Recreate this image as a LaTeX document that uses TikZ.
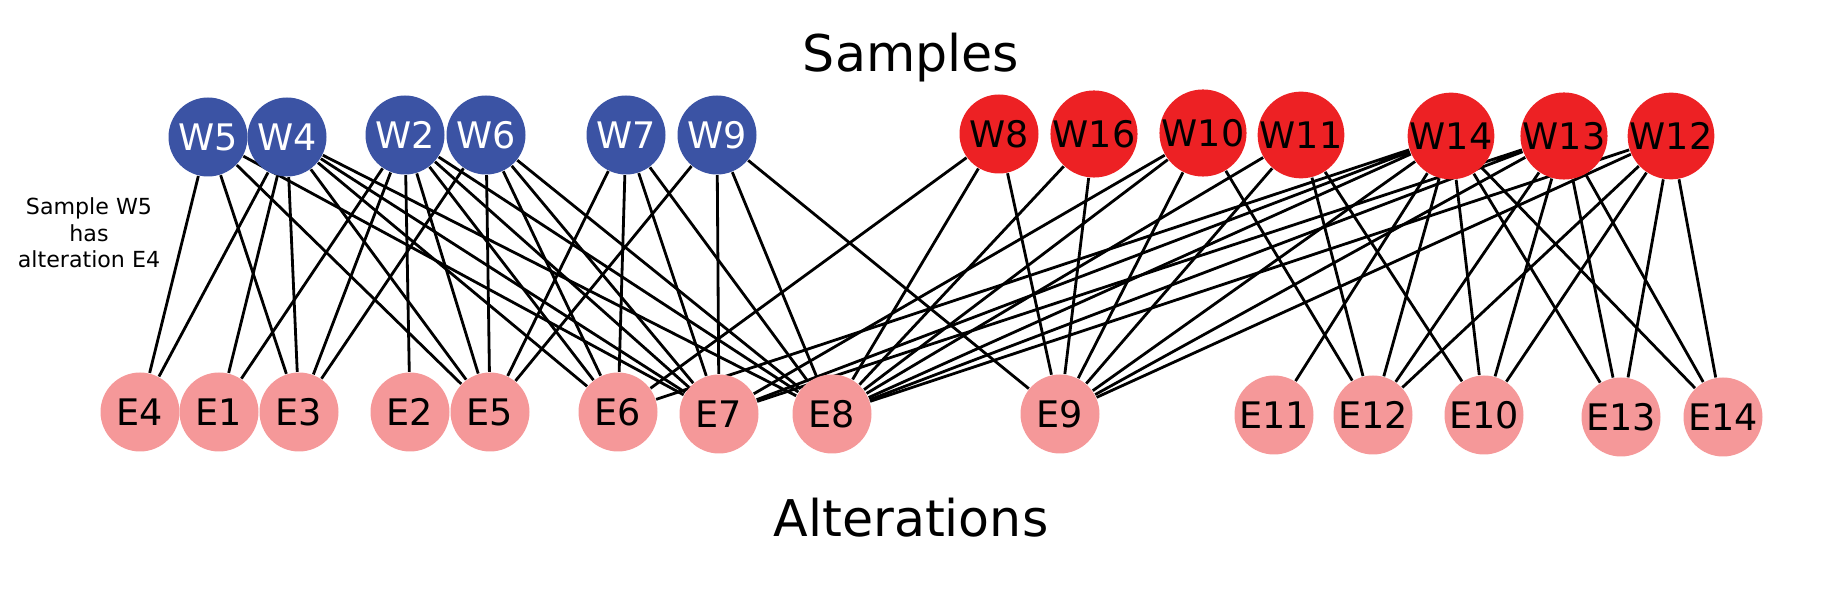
\documentclass[tikz,border=0pt]{standalone}
\usepackage{fontspec}
\setmainfont{DejaVu Sans}
\definecolor{wblue}{RGB}{59,83,164}
\definecolor{wred}{RGB}{237,33,36}
\definecolor{epink}{RGB}{245,152,153}
\pgfdeclarelayer{links}
\pgfsetlayers{links,main}
\begin{document}
\begin{tikzpicture}[font=\fontsize{10.4}{12}\selectfont,
	node/.style={circle,minimum size=0.79cm,inner sep=0pt},
	wsample/.style={node,fill=wblue,text=white},
	rsample/.style={node,fill=wred,text=black},
	alter/.style={node,fill=epink,text=black},
	link/.style={black,line width=0.8pt}]
	\useasboundingbox (0,0) rectangle (18.23,6.06);
	%samples
	\node[wsample] (W5) at (2.08,4.69) {W5};
	\node[wsample] (W4) at (2.87,4.69) {W4};
	\node[wsample] (W2) at (4.05,4.71) {W2};
	\node[wsample] (W6) at (4.86,4.71) {W6};
	\node[wsample] (W7) at (6.26,4.71) {W7};
	\node[wsample] (W9) at (7.17,4.71) {W9};
	\node[rsample] (W8) at (9.99,4.72) {W8};
	\node[rsample] (W16) at (10.94,4.72) {W16};
	\node[rsample] (W10) at (12.03,4.73) {W10};
	\node[rsample] (W11) at (13.01,4.71) {W11};
	\node[rsample] (W14) at (14.51,4.70) {W14};
	\node[rsample] (W13) at (15.64,4.70) {W13};
	\node[rsample] (W12) at (16.71,4.70) {W12};
	%alterations
	\node[alter] (E4) at (1.40,1.94) {E4};
	\node[alter] (E1) at (2.19,1.94) {E1};
	\node[alter] (E3) at (2.99,1.94) {E3};
	\node[alter] (E2) at (4.10,1.94) {E2};
	\node[alter] (E5) at (4.90,1.94) {E5};
	\node[alter] (E6) at (6.18,1.94) {E6};
	\node[alter] (E7) at (7.19,1.92) {E7};
	\node[alter] (E8) at (8.32,1.92) {E8};
	\node[alter] (E9) at (10.60,1.92) {E9};
	\node[alter] (E11) at (12.74,1.91) {E11};
	\node[alter] (E12) at (13.73,1.91) {E12};
	\node[alter] (E10) at (14.84,1.91) {E10};
	\node[alter] (E13) at (16.21,1.89) {E13};
	\node[alter] (E14) at (17.23,1.89) {E14};
	%titles
	\node[anchor=base,font=\fontsize{14.4}{17}\selectfont] (samples) at (9.11,5.34) {Samples};
	\node[anchor=base,font=\fontsize{14.4}{17}\selectfont] (alterations) at (9.11,0.69) {Alterations};
	\node[align=center,font=\fontsize{6.3}{7.6}\selectfont] (note) at (0.89,3.73) {Sample W5\\has\\alteration E4};
	\begin{pgfonlayer}{links}
	\draw[link] (W5) -- (E4) (W5) -- (E3) (W5) -- (E5) (W5) -- (E7);
	\draw[link] (W4) -- (E4) (W4) -- (E1) (W4) -- (E3) (W4) -- (E5) (W4) -- (E6) (W4) -- (E7) (W4) -- (E8);
	\draw[link] (W2) -- (E1) (W2) -- (E3) (W2) -- (E2) (W2) -- (E5) (W2) -- (E6) (W2) -- (E7) (W2) -- (E8);
	\draw[link] (W6) -- (E3) (W6) -- (E5) (W6) -- (E6) (W6) -- (E7) (W6) -- (E8);
	\draw[link] (W7) -- (E5) (W7) -- (E6) (W7) -- (E7) (W7) -- (E8);
	\draw[link] (W9) -- (E5) (W9) -- (E7) (W9) -- (E8) (W9) -- (E9);
	\draw[link] (W8) -- (E6) (W8) -- (E8) (W8) -- (E9);
	\draw[link] (W16) -- (E8) (W16) -- (E9);
	\draw[link] (W10) -- (E7) (W10) -- (E8) (W10) -- (E9) (W10) -- (E12);
	\draw[link] (W11) -- (E8) (W11) -- (E9) (W11) -- (E12) (W11) -- (E10);
	\draw[link] (W14) -- (E6) (W14) -- (E7) (W14) -- (E8) (W14) -- (E9) (W14) -- (E11) (W14) -- (E12) (W14) -- (E10) (W14) -- (E13) (W14) -- (E14);
	\draw[link] (W13) -- (E7) (W13) -- (E8) (W13) -- (E9) (W13) -- (E12) (W13) -- (E10) (W13) -- (E13) (W13) -- (E14);
	\draw[link] (W12) -- (E8) (W12) -- (E9) (W12) -- (E12) (W12) -- (E10) (W12) -- (E13) (W12) -- (E14);
	\end{pgfonlayer}
\end{tikzpicture}
\end{document}
